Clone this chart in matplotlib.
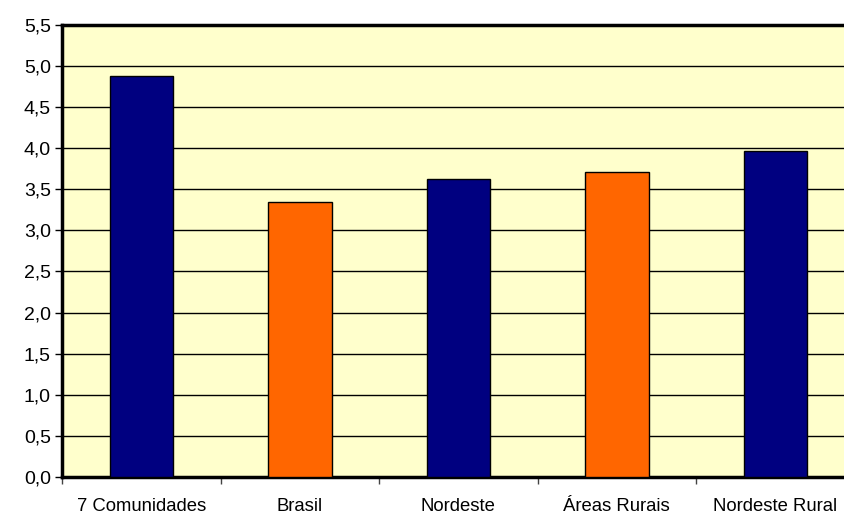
import numpy as np
import matplotlib
matplotlib.use('Agg')
import matplotlib.pyplot as plt
from matplotlib.ticker import FixedLocator, FuncFormatter

plt.rcParams['font.family'] = ['Liberation Sans', 'DejaVu Sans']

# Dados
categorias = ['7 Comunidades', 'Brasil', 'Nordeste', 'Áreas Rurais', 'Nordeste Rural']
valores = [4.88, 3.35, 3.62, 3.71, 3.97]
cores = ['#000080', '#FF6600', '#000080', '#FF6600', '#000080']
y_ticks = np.arange(0, 5.51, 0.5)

fig = plt.figure(figsize=(8.45, 5.15), dpi=100)
ax = fig.add_axes([0.0734, 0.0738, 0.938, 0.878])
ax.set_facecolor('#FFFFCC')

x = np.arange(len(categorias))
ax.bar(x, valores, width=0.4, color=cores, edgecolor='black', linewidth=1, zorder=3)

ax.set_xlim(-0.5, len(categorias) - 0.5)
ax.set_ylim(0, 5.5)
ax.set_yticks(y_ticks)
ax.yaxis.set_major_formatter(FuncFormatter(lambda v, p: f'{v:.1f}'.replace('.', ',')))
ax.grid(axis='y', color='black', linewidth=1, zorder=1)

ax.set_xticks(x)
ax.set_xticklabels(categorias)
ax.xaxis.set_minor_locator(FixedLocator(np.arange(-0.5, len(categorias) - 0.4, 1)))
ax.tick_params(axis='x', which='major', length=0, pad=15, labelsize=13.3)
ax.tick_params(axis='x', which='minor', length=5, width=1, color='#444444')
ax.tick_params(axis='y', length=5, width=1, labelsize=14, pad=3)

for s in ['left', 'bottom', 'top']:
    ax.spines[s].set_linewidth(2.5)
ax.spines['right'].set_visible(False)

plt.savefig('out.png', dpi=100)
plt.close()
